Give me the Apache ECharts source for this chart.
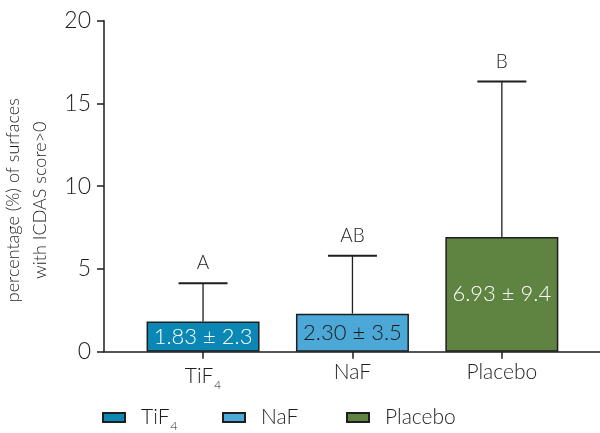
<!DOCTYPE html>
<html>
<head>
<meta charset="utf-8">
<script src="https://cdn.jsdelivr.net/npm/echarts@6/dist/echarts.min.js"></script>
<style>
  html, body { margin: 0; padding: 0; background: #fff; }
  #main { width: 600px; height: 433px; }
</style>
</head>
<body>
<div id="main"></div>
<script>
// data
const groups = ['TiF4', 'NaF', 'Placebo']
const means = [1.83, 2.30, 6.93]
const sds = [2.3, 3.5, 9.4]
const letters = ['A', 'AB', 'B']

const colors = ['#0a87b4', '#4ca8d7', '#5f8341']
const labelColors = ['#ffffff', '#1a1a1a', '#ffffff']
const ink = '#1e1e1e'
const font = 'Lato, "Noto Sans", sans-serif'
const weight = 300

// TiF4 -> TiF with subscript 4
function subName(name) {
  return name === 'TiF4' ? 'TiF{sub|4}' : name
}
const subRich = {
  sub: { fontSize: 12, fontFamily: font, fontWeight: weight, color: ink, verticalAlign: 'bottom', padding: [17, 0, 0, 1] }
}

const barSeries = groups.map(function(g, i) {
  return {
    name: g,
    type: 'bar',
    barWidth: 113,
    barGap: '-100%',
    data: [[i, means[i]]],
    itemStyle: { color: colors[i], borderColor: ink, borderWidth: 1.5 },
    label: {
      show: true,
      position: 'inside',
      fontFamily: font,
      fontWeight: weight,
      fontSize: 22,
      color: labelColors[i],
      formatter: means[i].toFixed(2) + ' ± ' + sds[i].toFixed(1)
    },
    z: 2
  }
})

const errorSeries = {
  type: 'custom',
  data: groups.map(function(g, i) { return [i, means[i], means[i] + sds[i], i] }),
  renderItem: function(params, api) {
    const x = api.value(0)
    const lo = api.coord([x, api.value(1)])
    const hi = api.coord([x, api.value(2)])
    const half = 24.5
    return {
      type: 'group',
      children: [
        { type: 'line', shape: { x1: lo[0], y1: lo[1], x2: hi[0], y2: hi[1] }, style: { stroke: ink, lineWidth: 1.3 } },
        { type: 'line', shape: { x1: hi[0] - half, y1: hi[1], x2: hi[0] + half, y2: hi[1] }, style: { stroke: ink, lineWidth: 2 } },
        {
          type: 'text',
          style: {
            x: hi[0], y: hi[1] - 20,
            text: letters[api.value(3)],
            align: 'center', verticalAlign: 'middle',
            fontSize: 19, fontFamily: font, fontWeight: weight, fill: ink
          }
        }
      ]
    }
  },
  z: 1
}

const legendLeft = [102, 222, 346]
const legends = groups.map(function(g, i) {
  return {
    data: [g],
    left: legendLeft[i],
    top: 407,
    padding: 0,
    icon: 'rect',
    itemWidth: 22,
    itemHeight: 9,
    itemGap: 0,
    formatter: subName,
    textStyle: { fontFamily: font, fontWeight: weight, fontSize: 21, color: ink, padding: [0, 0, 0, 11], rich: subRich }
  }
})

const myChart = echarts.init(document.getElementById('main'))
const option = {
  backgroundColor: '#fff',
  animation: false,
  grid: { left: 104, right: 0, top: 20.7, bottom: 81.3, outerBoundsMode: 'none', containLabel: false },
  legend: legends,
  xAxis: {
    type: 'value',
    min: -0.663,
    max: 2.657,
    splitLine: { show: false },
    axisLine: { show: true, onZero: false, lineStyle: { color: ink, width: 1.5 } },
    axisTick: { show: true, length: 7, customValues: [0, 1, 2], lineStyle: { color: ink, width: 1.5 } },
    axisLabel: {
      customValues: [0, 1, 2],
      margin: 10,
      fontFamily: font,
      fontWeight: weight,
      fontSize: 21,
      color: ink,
      formatter: function(v) { return subName(groups[Math.round(v)]) },
      rich: subRich
    }
  },
  yAxis: {
    type: 'value',
    min: 0,
    max: 20,
    interval: 5,
    name: 'percentage (%) of surfaces\nwith ICDAS score>0',
    nameLocation: 'middle',
    nameGap: 45,
    nameTextStyle: { fontFamily: font, fontWeight: weight, fontSize: 18, color: ink, lineHeight: 27, padding: [0, 28, 0, 0] },
    splitLine: { show: false },
    axisLine: { show: true, onZero: false, lineStyle: { color: ink, width: 1.5 } },
    axisTick: { show: true, length: 7, lineStyle: { color: ink, width: 1.5 } },
    axisLabel: {
      margin: 13,
      fontFamily: font,
      fontWeight: weight,
      fontSize: 23,
      color: ink
    }
  },
  series: barSeries.concat([errorSeries])
}
myChart.setOption(option)
</script>
</body>
</html>
